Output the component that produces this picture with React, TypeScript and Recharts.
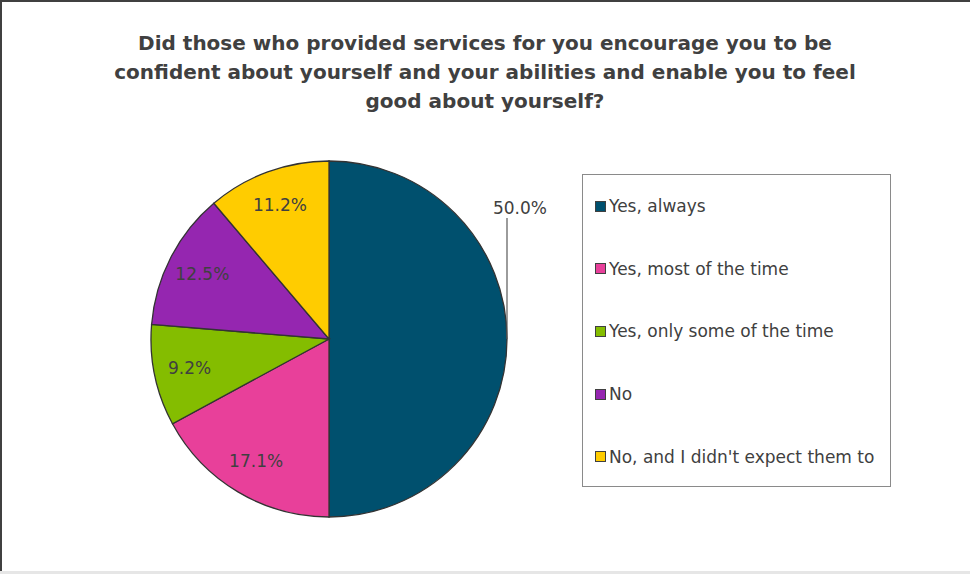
import React from 'react';
import { PieChart, Pie, Cell, Legend } from 'recharts';

const titleLines = [
  'Did those who provided services for you encourage you to be',
  'confident about yourself and your abilities and enable you to feel',
  'good about yourself?',
];
const categories = [
  'Yes, always',
  'Yes, most of the time',
  'Yes, only some of the time',
  'No',
  "No, and I didn't expect them to",
];
const values = [50.0, 17.1, 9.2, 12.5, 11.2];
const colors = ['#00506E', '#E8409A', '#84BD00', '#9526B0', '#FFCC00'];

const data = categories.map((name, i) => ({ name, value: values[i] }));

const FONT = '"DejaVu Sans", Verdana, sans-serif';
const TEXT = '#404040';
const RAD = Math.PI / 180;

const renderLabel = (props: any) => {
  const { cx, cy, midAngle, outerRadius, index, value } = props;
  const txt = `${Number(value).toFixed(1)}%`;
  if (index === 0) {
    const x0 = cx + outerRadius * Math.cos(-midAngle * RAD);
    const y0 = cy + outerRadius * Math.sin(-midAngle * RAD);
    return (
      <g>
        <line x1={x0} y1={y0} x2={x0} y2={y0 - 121} stroke="#595959" strokeWidth={1.2} />
        <text x={x0 + 13} y={y0 - 131} textAnchor="middle" dominantBaseline="central" fill={TEXT} fontSize={17} fontFamily={FONT}>
          {txt}
        </text>
      </g>
    );
  }
  const r = outerRadius * 0.8;
  const x = cx + r * Math.cos(-midAngle * RAD);
  const y = cy + r * Math.sin(-midAngle * RAD);
  return (
    <text x={x} y={y} textAnchor="middle" dominantBaseline="central" fill={TEXT} fontSize={17} fontFamily={FONT}>
      {txt}
    </text>
  );
};

const renderLegend = () => (
  <div
    style={{
      width: 307,
      height: 311,
      border: '1px solid #8a8a8a',
      boxSizing: 'content-box',
      fontFamily: FONT,
      fontSize: 17,
      color: TEXT,
      position: 'relative',
    }}
  >
    {categories.map((c, i) => (
      <div
        key={c}
        style={{
          position: 'absolute',
          left: 12,
          top: 31 + i * 62.7 - 11,
          height: 22,
          display: 'flex',
          alignItems: 'center',
          whiteSpace: 'nowrap',
        }}
      >
        <span
          style={{
            display: 'inline-block',
            width: 9,
            height: 9,
            background: colors[i],
            border: '1.5px solid #404040',
            marginRight: 3,
          }}
        />
        <span>{c}</span>
      </div>
    ))}
  </div>
);

export default function App() {
  return (
    <div
      style={{
        position: 'fixed',
        left: 0,
        top: 0,
        width: 970,
        height: 574,
        background: '#fff',
        overflow: 'hidden',
      }}
    >
      <div style={{ position: 'absolute', left: 0, top: 0, width: 970, height: 1.5, background: '#404040' }} />
      <div style={{ position: 'absolute', left: 0, top: 0, width: 1.5, height: 571, background: '#404040' }} />
      <div style={{ position: 'absolute', left: 0, top: 571, width: 970, height: 3, background: '#e6e6e6' }} />
      <div
        style={{
          position: 'absolute',
          left: 0,
          top: 29,
          width: 970,
          textAlign: 'center',
          fontFamily: FONT,
          fontWeight: 'bold',
          fontSize: 20,
          lineHeight: '29px',
          color: TEXT,
        }}
      >
        {titleLines.map((l) => (
          <div key={l}>{l}</div>
        ))}
      </div>
      <div style={{ position: 'absolute', left: 0, top: 0 }}>
        <PieChart width={970} height={574} margin={{ top: 0, right: 0, bottom: 0, left: 0 }}>
          <Pie
            data={data}
            dataKey="value"
            nameKey="name"
            cx={329}
            cy={339}
            outerRadius={178}
            startAngle={90}
            endAngle={-270}
            stroke="#333333"
            strokeWidth={1.3}
            label={renderLabel}
            labelLine={false}
            isAnimationActive={false}
          >
            {data.map((d, i) => (
              <Cell key={d.name} fill={colors[i]} />
            ))}
          </Pie>
          <Legend
            content={renderLegend}
            wrapperStyle={{ position: 'absolute', left: 582, top: 174, width: 309, height: 313, bottom: 'auto' }}
          />
        </PieChart>
      </div>
    </div>
  );
}
